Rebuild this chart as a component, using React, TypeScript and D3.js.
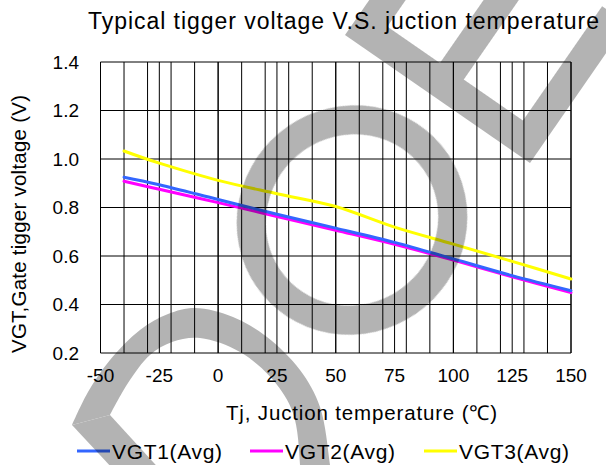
import React from 'react';
import * as d3 from 'd3';

// ---- data ----
const temps = [-40, -25, 0, 25, 50, 75, 100, 125, 150];
const vgt1 = [0.925, 0.894, 0.833, 0.772, 0.715, 0.656, 0.588, 0.519, 0.457];
const vgt2 = [0.908, 0.875, 0.820, 0.763, 0.706, 0.648, 0.583, 0.514, 0.449];
const vgt3 = [1.033, 0.983, 0.912, 0.857, 0.804, 0.719, 0.649, 0.578, 0.505];
const seriesNames = ['VGT1(Avg)', 'VGT2(Avg)', 'VGT3(Avg)'];
const seriesColors = ['#3366FF', '#FF00FF', '#FFFF00'];
const xMajorTicks = [-50, -25, 0, 25, 50, 75, 100, 125, 150];
const xMinorTicks = [-40, -30, -20, -10, 0, 10, 20, 30, 40, 50, 60, 70, 80, 90, 100, 110, 120, 130, 140, 150];
const yTicks = [0.2, 0.4, 0.6, 0.8, 1.0, 1.2, 1.4];
const titleText = 'Typical tigger voltage V.S. juction temperature';
const xTitle = 'Tj, Juction temperature (\u2103)';
const yTitle = 'VGT,Gate tigger voltage (V)';

// ---- watermark outlines (decoration) ----
const dOuter: [number, number][] = [[72, 425], [88, 392], [110, 360], [140, 330], [168, 314], [195, 308], [233, 317], [267, 337], [300, 370], [320, 407], [330, 465], [333, 490]];
const dInner: [number, number][] = [[300, 490], [300, 465], [293, 413], [273, 380], [240, 352], [200, 338], [172, 342], [150, 355], [128, 383], [110, 415]];
const eRotation = -55.3;
const eOrigin: [number, number] = [345, 35];

const FONT = '"Liberation Sans", Arial, Helvetica, sans-serif';

export default function App() {
  const W = 606, H = 465;
  const x = d3.scaleLinear().domain([-50, 150]).range([100.5, 571]);
  const y = d3.scaleLinear().domain([0.2, 1.4]).range([353, 62]);
  const series = [vgt1, vgt2, vgt3];
  const line = d3.line<number>()
    .x((_, i) => x(temps[i]))
    .y((d) => y(d))
    .curve(d3.curveCardinal);
  const drawOrder = [1, 0, 2];

  const smooth = d3.line().curve(d3.curveCatmullRom);
  const dPath = (smooth(dOuter) || '') + (smooth(dInner) || '').replace(/^M/, 'L') + 'Z';
  const ePath = 'M0,0H170V30H31V94H150V123H31V195H170V225H0Z';

  const legendX = [77, 250, 424];
  const fmt = d3.format('.1f');

  return (
    <svg width={W} height={H} style={{ position: 'absolute', left: 0, top: 0, background: '#fff' }} fontFamily={FONT}>
      <rect x={0} y={0} width={W} height={H} fill="#fff" />
      {/* grid */}
      <g stroke="#000" strokeWidth={1} fill="none">
        {xMinorTicks.map((t) => (
          <line key={'mx' + t} x1={x(t)} x2={x(t)} y1={y(1.4)} y2={y(0.2)} />
        ))}
        {xMajorTicks.map((t) => (
          <line key={'Mx' + t} x1={x(t)} x2={x(t)} y1={y(1.4)} y2={y(0.2)} />
        ))}
        {yTicks.map((t) => (
          <line key={'y' + t} x1={x(-50)} x2={x(150)} y1={y(t)} y2={y(t)} />
        ))}
      </g>
      {/* series */}
      {drawOrder.map((k) => (
        <path key={seriesNames[k]} d={line(series[k]) || ''} fill="none" stroke={seriesColors[k]} strokeWidth={3} strokeLinejoin="round" strokeLinecap="round" />
      ))}
      {/* axis tick labels */}
      <g fontSize={19} fill="#000">
        {yTicks.map((t) => (
          <text key={'yl' + t} x={79} y={y(t) + 6.8} textAnchor="end">{fmt(t)}</text>
        ))}
        {xMajorTicks.map((t) => (
          <text key={'xl' + t} x={x(t)} y={382} textAnchor="middle">{t}</text>
        ))}
      </g>
      {/* titles */}
      <text x={88} y={28.5} fontSize={23} textLength={511} lengthAdjust="spacing">{titleText}</text>
      <text x={226} y={420} fontSize={20.5} textLength={271} lengthAdjust="spacing">{xTitle}</text>
      <text transform="translate(25.5,224) rotate(-90)" fontSize={20.5} textAnchor="middle" textLength={258} lengthAdjust="spacing">{yTitle}</text>
      {/* legend */}
      {seriesNames.map((n, i) => (
        <g key={'lg' + n}>
          <line x1={legendX[i]} x2={legendX[i] + 33} y1={451} y2={451} stroke={seriesColors[i]} strokeWidth={3} />
          <text x={legendX[i] + 35} y={459} fontSize={21} textLength={110} lengthAdjust="spacing">{n}</text>
        </g>
      ))}
      {/* watermark */}
      <g opacity={0.3} fill="#000">
        <path d={dPath} />
        <path d="M72,425L140,498L186,498L110,415Z" />
        <ellipse cx={352} cy={220} rx={102} ry={99} fill="none" stroke="#000" strokeWidth={29} transform="rotate(-40 352 220)" />
        <path d={ePath} transform={`translate(${eOrigin[0]},${eOrigin[1]}) rotate(${eRotation})`} />
      </g>
    </svg>
  );
}
